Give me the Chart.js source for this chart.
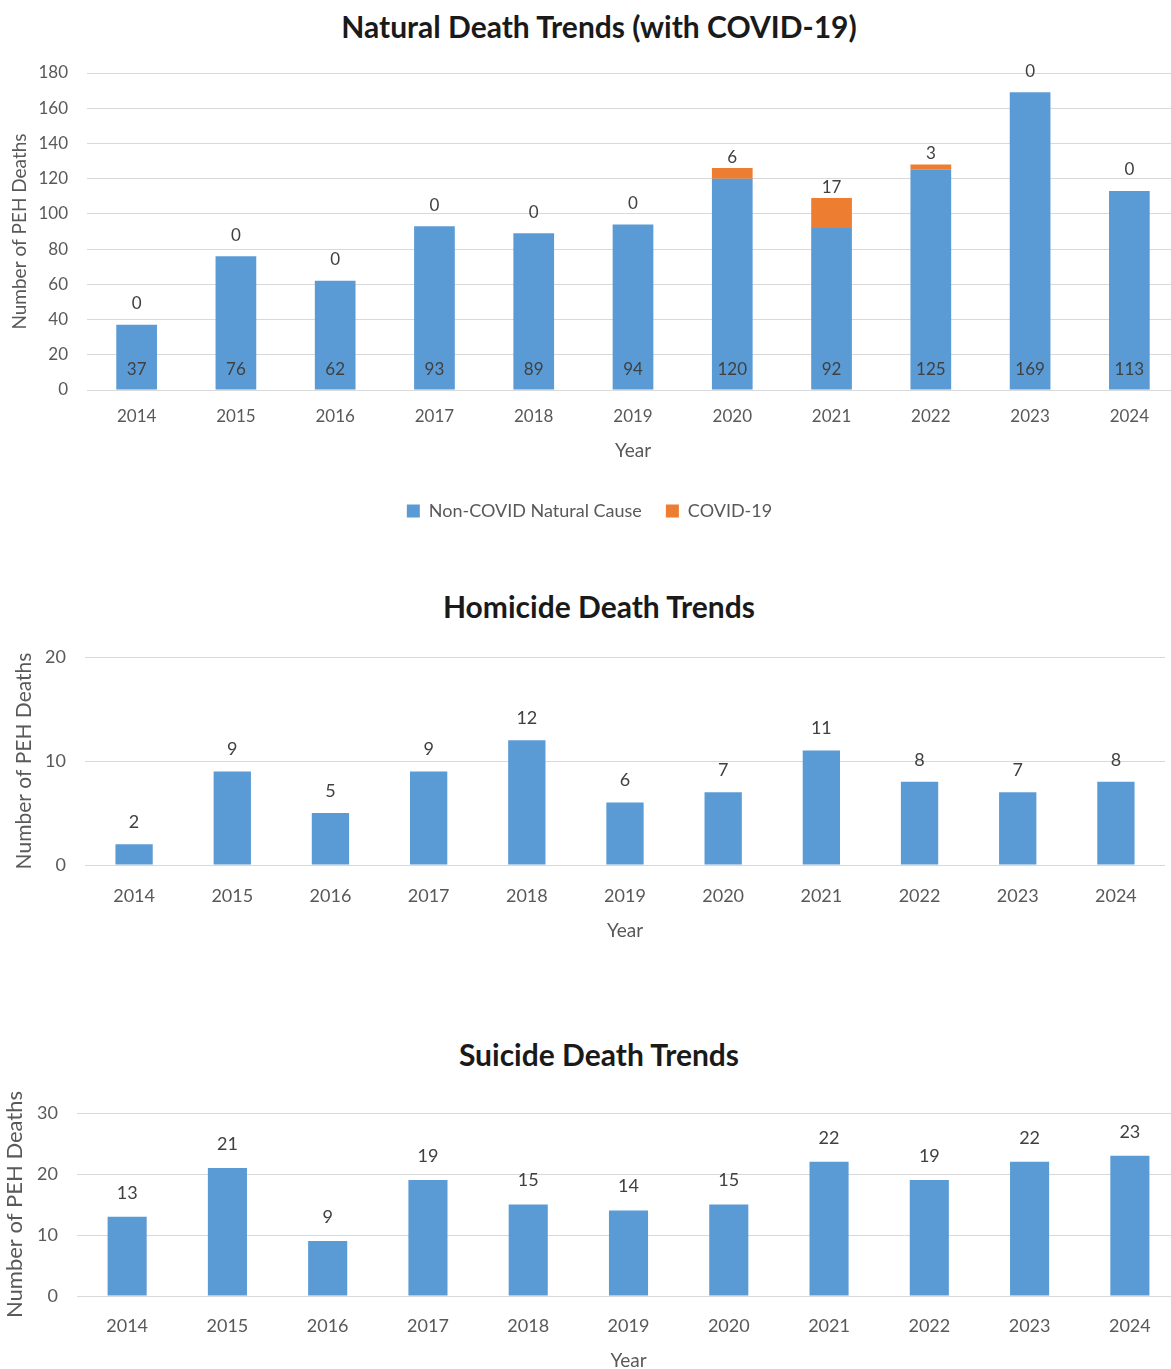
<!DOCTYPE html>
<html>
<head>
<meta charset="utf-8">
<script src="https://cdn.jsdelivr.net/npm/chart.js@4.4.1/dist/chart.umd.min.js"></script>
<style>
  html, body { margin: 0; padding: 0; background: #fff; overflow: hidden; }
  body { width: 1171px; height: 1369px; position: relative; }
  .title {
    position: absolute; left: 0; width: 1198px; text-align: center;
    font-family: Lato, sans-serif; font-weight: 700; font-size: 30px; color: #1a1a1a;
    line-height: 36px;
  }
  .box { position: absolute; left: 0; }
</style>
</head>
<body>
<div class="title" style="top:8px">Natural Death Trends (with COVID-19)</div>
<div class="box" style="top:0; width:1179px; height:530px"><canvas id="natural"></canvas></div>

<div class="title" style="top:588px">Homicide Death Trends</div>
<div class="box" style="top:560px; width:1165px; height:382px"><canvas id="homicide"></canvas></div>

<div class="title" style="top:1036px">Suicide Death Trends</div>
<div class="box" style="top:1000px; width:1180px; height:372px"><canvas id="suicide"></canvas></div>

<script>
// data
const years = ['2014', '2015', '2016', '2017', '2018', '2019', '2020', '2021', '2022', '2023', '2024'];
const nonCovid = [37, 76, 62, 93, 89, 94, 120, 92, 125, 169, 113];
const covid = [0, 0, 0, 0, 0, 0, 6, 17, 3, 0, 0];
const homicide = [2, 9, 5, 9, 12, 6, 7, 11, 8, 7, 8];
const suicide = [13, 21, 9, 19, 15, 14, 15, 22, 19, 22, 23];

const blue = '#5B9BD5';
const orange = '#ED7D31';
const grey = '#595959';
const gridGrey = '#d9d9d9';
const fontFamily = 'Lato, sans-serif';

// value labels drawn on the bars
const barValues = {
  id: 'barValues',
  afterDatasetsDraw(chart, args, opts) {
    const ctx = chart.ctx;
    const yScale = chart.scales.y;
    ctx.save();
    ctx.font = opts.size + 'px ' + fontFamily;
    ctx.fillStyle = '#404040';
    ctx.textAlign = 'center';
    ctx.textBaseline = 'middle';
    chart.data.datasets.forEach((ds, i) => {
      const meta = chart.getDatasetMeta(i);
      meta.data.forEach((bar, j) => {
        const v = ds.data[j];
        let y;
        if (opts.mode === 'stacked' && i === 0) {
          y = yScale.getPixelForValue(0) - 20;
        } else if (opts.mode === 'stacked') {
          y = bar.y - (v > 0 ? 11 : 21);
        } else {
          y = bar.y - opts.offset;
        }
        ctx.fillText(String(v), bar.x, y);
      });
    });
    ctx.restore();
  }
};

function makeScales(cfg) {
  return {
    x: {
      stacked: true,
      grid: { display: false },
      border: { display: true, color: gridGrey, width: 1 },
      ticks: { color: grey, padding: cfg.tickPad, font: { family: fontFamily, size: cfg.tickSize } },
      title: {
        display: true, text: 'Year', color: grey,
        font: { family: fontFamily, size: 19 },
        padding: { top: 0, bottom: cfg.yearPadBottom }
      },
      afterFit(s) { s.height = cfg.xHeight; }
    },
    y: {
      stacked: true,
      min: 0,
      max: cfg.max,
      grid: { color: gridGrey, lineWidth: 1, drawTicks: false },
      border: { display: false },
      ticks: { stepSize: cfg.step, color: grey, padding: 19, font: { family: fontFamily, size: cfg.tickSize } },
      title: {
        display: true, text: 'Number of PEH Deaths', color: grey,
        font: { family: fontFamily, size: cfg.yTitleSize },
        padding: { top: cfg.yTitlePad, bottom: 0 }
      },
      afterFit(s) { s.width = cfg.yWidth; }
    }
  };
}

Chart.defaults.animation = false;

new Chart(document.getElementById('natural'), {
  type: 'bar',
  data: {
    labels: years,
    datasets: [
      { label: 'Non-COVID Natural Cause', data: nonCovid, backgroundColor: blue, categoryPercentage: 1, barPercentage: 0.41 },
      { label: 'COVID-19', data: covid, backgroundColor: orange, categoryPercentage: 1, barPercentage: 0.41 }
    ]
  },
  options: {
    responsive: true,
    maintainAspectRatio: false,
    layout: { padding: { top: 73, right: 0, bottom: 0, left: 0 } },
    scales: makeScales({ max: 180, step: 20, tickSize: 17, tickPad: 8, yTitleSize: 19, yTitlePad: 8, yWidth: 87, xHeight: 88, yearPadBottom: 16 }),
    plugins: {
      legend: {
        position: 'bottom',
        labels: {
          color: grey, boxWidth: 13, boxHeight: 13, padding: 24,
          font: { family: fontFamily, size: 18 }
        }
      },
      tooltip: { enabled: false },
      barValues: { mode: 'stacked', size: 17 }
    }
  },
  plugins: [barValues]
});

new Chart(document.getElementById('homicide'), {
  type: 'bar',
  data: {
    labels: years,
    datasets: [
      { label: 'Homicide', data: homicide, backgroundColor: blue, categoryPercentage: 1, barPercentage: 0.38 }
    ]
  },
  options: {
    responsive: true,
    maintainAspectRatio: false,
    layout: { padding: { top: 97, right: 0, bottom: 0, left: 0 } },
    scales: makeScales({ max: 20, step: 10, tickSize: 18, tickPad: 12, yTitleSize: 21, yTitlePad: 12, yWidth: 85, xHeight: 77, yearPadBottom: 0 }),
    plugins: {
      legend: { display: false },
      tooltip: { enabled: false },
      barValues: { mode: 'single', offset: 22, size: 18 }
    }
  },
  plugins: [barValues]
});

new Chart(document.getElementById('suicide'), {
  type: 'bar',
  data: {
    labels: years,
    datasets: [
      { label: 'Suicide', data: suicide, backgroundColor: blue, categoryPercentage: 1, barPercentage: 0.39 }
    ]
  },
  options: {
    responsive: true,
    maintainAspectRatio: false,
    layout: { padding: { top: 113, right: 0, bottom: 0, left: 0 } },
    scales: makeScales({ max: 30, step: 10, tickSize: 18, tickPad: 11, yTitleSize: 22, yTitlePad: 2, yWidth: 77, xHeight: 76, yearPadBottom: 0 }),
    plugins: {
      legend: { display: false },
      tooltip: { enabled: false },
      barValues: { mode: 'single', offset: 24, size: 18 }
    }
  },
  plugins: [barValues]
});
</script>
</body>
</html>
